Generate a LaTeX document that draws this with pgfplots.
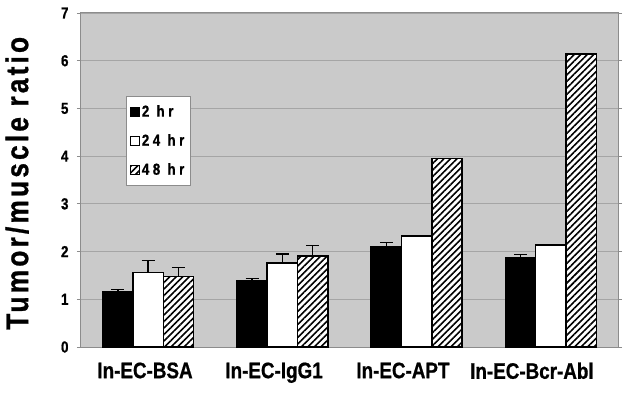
\documentclass[border=0pt]{standalone}
\usepackage{fontspec}
\setmainfont{Liberation Sans}[FakeStretch=0.84, BoldFeatures={FakeBold=0.8}]
\newfontfamily\spacedfont{Liberation Sans}[FakeStretch=0.84, LetterSpace=10, BoldFeatures={FakeBold=0.8}]
\newfontfamily\legfont{Liberation Sans}[FakeStretch=0.84, LetterSpace=22, BoldFeatures={FakeBold=0.8}]
\usepackage{pgfplots}
\pgfplotsset{compat=1.18}
\usetikzlibrary{patterns.meta}
\definecolor{bgc}{RGB}{202,202,202}
\definecolor{gridc}{RGB}{165,165,165}
\definecolor{framec}{RGB}{140,140,140}
\begin{document}
\begin{tikzpicture}
\useasboundingbox (-81bp,-54bp) rectangle (543bp,347bp);
\begin{axis}[
  at={(0,0)}, anchor=south west,
  scale only axis, width=537bp, height=334bp,
  ybar=0pt, bar width=30.3bp,
  xmin=-0.5, xmax=3.5, ymin=0, ymax=7,
  xtick={-0.023,0.938,1.898,2.859},
  xticklabels={In-EC-BSA, In-EC-IgG1, In-EC-APT, In-EC-Bcr-Abl},
  major x tick style={draw=none},
  extra x ticks={-0.5,0.5,1.5,2.5,3.5},
  extra x tick labels={},
  extra x tick style={major tick length=6bp, tick align=outside, grid=none, tick style={draw=framec, line width=0.8bp}},
  ytick={0,1,...,7},
  ymajorgrids, grid style={draw=gridc, line width=0.8bp},
  ytick align=outside, major tick length=4bp,
  ytick style={draw=framec, line width=0.8bp},
  axis line style={draw=framec, line width=1bp},
  axis background/.style={fill=bgc},
  /pgf/number format/assume math mode=true,
  yticklabel style={font=\bfseries\fontsize{16}{16}\selectfont, xshift=-5bp},
  xticklabel style={font=\bfseries\fontsize{22.5}{23}\selectfont, yshift=-8bp},
  ylabel={Tumor/muscle ratio},
  ylabel style={font=\spacedfont\bfseries\fontsize{31.5}{33}\selectfont, at={(axis description cs:-0.119,0.49)}, anchor=center},
  legend image code/.code={\draw[#1, line width=1bp] (0bp,-4.5bp) rectangle (9bp,4.5bp);},
  legend style={at={(0.083,0.752)}, anchor=north west, draw=framec, line width=0.6bp, fill=white,
    font=\legfont\bfseries\fontsize{16}{18}\selectfont, row sep=12bp, inner xsep=4bp, inner ysep=7bp},
  legend cell align=left,
]
\addplot[fill=black, draw=black, line width=1.5bp,
  error bars/.cd, y dir=plus, y explicit,
  error bar style={line width=1.5bp, black},
  error mark options={rotate=90, mark size=6.5bp, line width=1.5bp, black}]
  coordinates {(0,1.16) +- (0,0.04) (1,1.39) +- (0,0.05) (2,2.10) +- (0,0.09) (3,1.87) +- (0,0.07)};
\addplot[fill=white, draw=black, line width=1.5bp,
  error bars/.cd, y dir=plus, y explicit,
  error bar style={line width=1.5bp, black},
  error mark options={rotate=90, mark size=6.5bp, line width=1.5bp, black}]
  coordinates {(0,1.56) +- (0,0.25) (1,1.76) +- (0,0.19) (2,2.33) +- (0,0) (3,2.14) +- (0,0)};
\addplot[fill=white, draw=black, line width=1.5bp,
  postaction={pattern={Lines[angle=45, distance=4.6bp, line width=1.6bp]}, pattern color=black},
  error bars/.cd, y dir=plus, y explicit,
  error bar style={line width=1.5bp, black},
  error mark options={rotate=90, mark size=6.5bp, line width=1.5bp, black}]
  coordinates {(0,1.48) +- (0,0.19) (1,1.91) +- (0,0.22) (2,3.95) +- (0,0) (3,6.14) +- (0,0)};
\legend{2 hr, 24 hr, 48 hr}
\end{axis}
\end{tikzpicture}
\end{document}
